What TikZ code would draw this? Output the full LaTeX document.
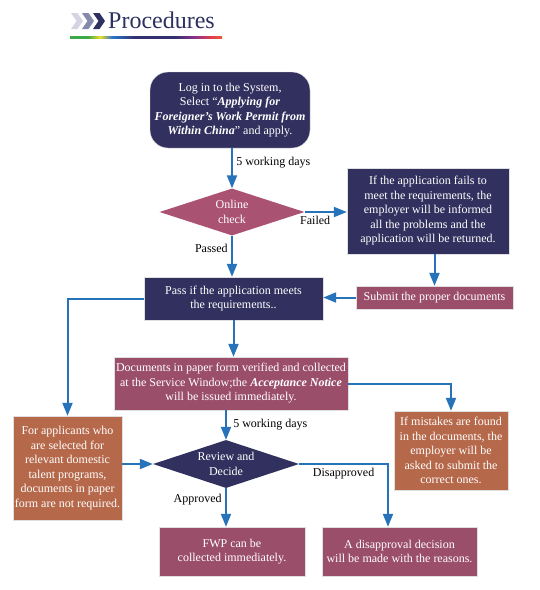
\documentclass[tikz,border=0pt]{standalone}
\usepackage{fontspec}
\setmainfont{Liberation Serif}
\usetikzlibrary{shapes.geometric,arrows.meta}

\definecolor{navy}{RGB}{50,48,94}
\definecolor{plum}{RGB}{155,78,106}
\definecolor{rose}{RGB}{170,82,114}
\definecolor{rust}{RGB}{182,104,74}
\definecolor{flowblue}{RGB}{38,115,186}
\definecolor{chevA}{RGB}{212,212,228}
\definecolor{chevB}{RGB}{132,138,172}
\definecolor{chevC}{RGB}{46,49,96}
\definecolor{rbgreen}{RGB}{60,170,70}
\definecolor{rbyellow}{RGB}{240,220,40}
\definecolor{rbblue}{RGB}{40,120,200}
\definecolor{rbnavy}{RGB}{50,48,110}
\definecolor{rbpurple}{RGB}{140,50,140}
\definecolor{rbred}{RGB}{220,60,80}
\definecolor{rborange}{RGB}{235,90,60}

\begin{document}
\begin{tikzpicture}[x=1pt,y=-1pt,
    box/.style={rectangle, draw=white!75!gray, line width=0.4pt, text=white,
        align=center, inner sep=0pt, font=\fontsize{12}{14.5}\selectfont},
    decide/.style={diamond, text=white, align=center, inner sep=0pt,
        font=\fontsize{12}{14.5}\selectfont},
    flow/.style={draw=flowblue, line width=2pt, -{Triangle[length=13pt,width=10pt]}},
    lbl/.style={font=\fontsize{12}{14.5}\selectfont, text=black}
]
    \useasboundingbox[fill=white] (0,0) rectangle (540,590);

    % Title with chevrons and coloured rule
    \foreach \x/\c in {71/chevA, 82/chevB, 93/chevC} {
        \fill[\c] (\x,13) -- ++(6.5,0) -- ++(5.5,8) -- ++(-5.5,8) -- ++(-6.5,0) -- ++(5.5,-8) -- cycle;
    }
    \node (title) [anchor=base west, inner sep=0pt, text=chevC,
        font=\fontsize{24}{24}\selectfont] at (108,28.5) {Procedures};
    \foreach \a/\b/\ca/\cb in {70/88/rbgreen/rbgreen, 88/100/rbgreen/rbyellow,
            100/112/rbyellow/rbblue, 112/135/rbblue/rbnavy, 135/175/rbnavy/rbnavy,
            175/195/rbnavy/rbpurple, 195/210/rbpurple/rbred, 210/222/rbred/rborange} {
        \shade[left color=\ca, right color=\cb] (\a,36.5) rectangle (\b,38.8);
    }

    % Boxes
    \node (start) [box, fill=navy, rounded corners=18pt, minimum width=160, minimum height=76]
        at (230,110) {Log in to the System,\\Select “\textbf{\textit{Applying for}}\\
        \textbf{\textit{Foreigner’s Work Permit from}}\\\textbf{\textit{Within China}}” and apply.};
    \node (online) [decide, fill=rose, aspect=3.3, minimum width=145, minimum height=47]
        at (232,212) {Online\\check};
    \node (failed) [box, fill=navy, minimum width=162, minimum height=86] at (428,211)
        {If the application fails to\\meet the requirements, the\\employer will be informed\\
        all the problems and the\\application will be returned.};
    \node (submit) [box, fill=plum, minimum width=157, minimum height=23] at (434.5,297.5)
        {Submit the proper documents};
    \node (pass) [box, fill=navy, minimum width=179, minimum height=43] at (233.5,298.5)
        {Pass if the application meets\\the requirements..};
    \node (doc) [box, fill=plum, minimum width=234, minimum height=53] at (231,383.5)
        {Documents in paper form verified and collected\\at the Service Window;the
        \textbf{\textit{Acceptance Notice}}\\will be issued immediately.};
    \node (exempt) [box, fill=rust, minimum width=109, minimum height=104] at (67.5,468)
        {For applicants who\\are selected for\\relevant domestic\\talent programs,\\
        documents in paper\\form are not required.};
    \node (mistakes) [box, fill=rust, minimum width=114, minimum height=79] at (451,450.5)
        {If mistakes are found\\in the documents, the\\employer will be\\asked to submit the\\
        correct ones.};
    \node (review) [decide, fill=navy, aspect=3, minimum width=146, minimum height=48]
        at (226,464) {Review and\\Decide};
    \node (fwp) [box, fill=plum, minimum width=146, minimum height=49] at (232,551.5)
        {FWP can be\\collected immediately.};
    \node (refuse) [box, fill=plum, minimum width=155, minimum height=49] at (399.5,551.5)
        {A disapproval decision\\will be made with the reasons.};

    % Connectors
    \draw[flow] (online.north |- start.south) -- (online.north)
        node[lbl, right, pos=0.35] {5 working days};
    \draw[flow] (online.east) -- (online.east -| failed.west)
        node[lbl, below, pos=0.25] {Failed};
    \draw[flow] (online.south) -- (online.south |- pass.north)
        node[lbl, left, pos=0.3] {Passed};
    \draw[flow] (submit.north |- failed.south) -- (submit.north);
    \draw[flow] (submit.west) -- (submit.west -| pass.east);
    \draw[flow] (pass.south) -- (pass.south |- doc.north);
    \draw[flow] (pass.west) -| (exempt.north);
    \draw[flow] (doc.east) -| (mistakes.north);
    \draw[flow] (review.north |- doc.south) -- (review.north)
        node[lbl, right, pos=0.5, xshift=3pt] {5 working days};
    \draw[flow] (exempt.east |- review.west) -- (review.west);
    \draw[flow] (review.south) -- (review.south |- fwp.north)
        node[lbl, left, pos=0.3] {Approved};
    \draw[flow] (review.east) -| ([xshift=-11.5pt]refuse.north)
        node[lbl, below, pos=0.25] {Disapproved};
\end{tikzpicture}
\end{document}
